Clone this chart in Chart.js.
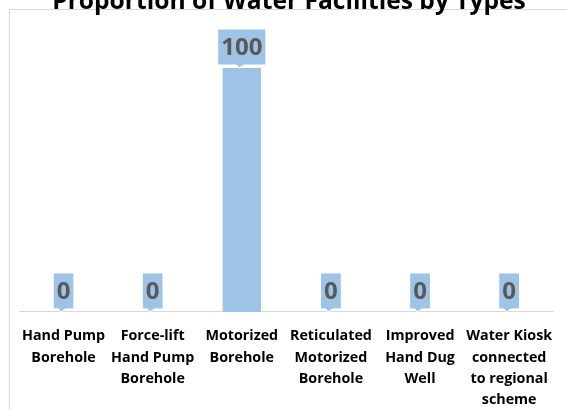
<!DOCTYPE html>
<html>
<head>
<meta charset="utf-8">
<script src="https://cdn.jsdelivr.net/npm/chart.js@4.4.0/dist/chart.umd.min.js"></script>
<style>
  html, body { margin: 0; padding: 0; background: #fff; }
  #wrap { position: relative; width: 567px; height: 410px; }
</style>
</head>
<body>
<div id="wrap"><canvas id="chart" width="567" height="410"></canvas></div>
<script>
const categories = [
  ['Hand Pump', 'Borehole'],
  ['Force-lift', 'Hand Pump', 'Borehole'],
  ['Motorized', 'Borehole'],
  ['Reticulated', 'Motorized', 'Borehole'],
  ['Improved', 'Hand Dug', 'Well'],
  ['Water Kiosk', 'connected', 'to regional', 'scheme']
];
const values = [0, 0, 100, 0, 0, 0];
const chartTitle = 'Proportion of Water Facilities by Types';

const barBlue = '#9dc3e6';

// frame + cut-off title, like the exported picture
const framePlugin = {
  id: 'frame',
  beforeDraw(chart) {
    const c = chart.ctx;
    c.save();
    c.strokeStyle = '#d9d9d9';
    c.lineWidth = 1;
    c.strokeRect(9.5, 9.5, 700, 600);
    c.restore();
  },
  afterDraw(chart) {
    const c = chart.ctx;
    c.save();
    c.fillStyle = '#000';
    c.font = "bold 24.6px 'Open Sans'";
    c.textAlign = 'center';
    c.textBaseline = 'alphabetic';
    c.fillText(chartTitle, 289, 9);
    c.restore();
  }
};

// callout-style data labels
const calloutPlugin = {
  id: 'callouts',
  afterDatasetsDraw(chart) {
    const c = chart.ctx;
    const meta = chart.getDatasetMeta(0);
    c.save();
    c.font = "bold 24px 'Open Sans'";
    meta.data.forEach((bar, i) => {
      const txt = String(values[i]);
      const w = c.measureText(txt).width + 7;
      const h = 36;
      const bottom = bar.y - 3;
      const x0 = bar.x - w / 2;
      const y0 = bottom - h;
      c.fillStyle = barBlue;
      c.strokeStyle = '#ffffff';
      c.lineWidth = 1;
      c.beginPath();
      c.moveTo(x0, y0);
      c.lineTo(x0 + w, y0);
      c.lineTo(x0 + w, bottom);
      c.lineTo(bar.x + 2, bottom);
      c.lineTo(bar.x - 3, bottom + 3);
      c.lineTo(bar.x - 5, bottom);
      c.lineTo(x0, bottom);
      c.closePath();
      c.fill();
      c.stroke();
      c.fillStyle = '#595959';
      c.textAlign = 'center';
      c.textBaseline = 'middle';
      c.fillText(txt, bar.x, y0 + h / 2 + 1);
    });
    c.restore();
  }
};

new Chart(document.getElementById('chart'), {
  type: 'bar',
  data: {
    labels: categories,
    datasets: [{
      data: values,
      backgroundColor: barBlue,
      categoryPercentage: 1,
      barPercentage: 0.43
    }]
  },
  options: {
    responsive: false,
    animation: false,
    layout: { padding: { left: 19, right: 10, top: 68, bottom: -14 } },
    scales: {
      x: {
        grid: { display: false, drawTicks: false },
        border: { display: true, color: '#d9d9d9', width: 1 },
        ticks: {
          color: '#000',
          font: { family: 'Open Sans', weight: 'bold', size: 14.3, lineHeight: 1.47 },
          padding: 14,
          maxRotation: 0,
          autoSkip: false
        }
      },
      y: {
        display: false,
        min: 0,
        max: 100
      }
    },
    plugins: {
      legend: { display: false },
      tooltip: { enabled: false }
    }
  },
  plugins: [framePlugin, calloutPlugin]
});
</script>
</body>
</html>
